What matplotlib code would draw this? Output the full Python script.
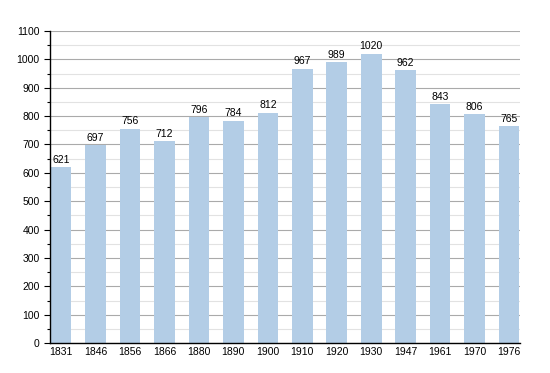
import matplotlib
matplotlib.use('Agg')
import matplotlib.pyplot as plt
from matplotlib.ticker import MultipleLocator

# Datos
annees = ['1831', '1846', '1856', '1866', '1880', '1890', '1900',
          '1910', '1920', '1930', '1947', '1961', '1970', '1976']
population = [621, 697, 756, 712, 796, 784, 812,
              967, 989, 1020, 962, 843, 806, 765]

plt.rcParams['font.family'] = ['Liberation Sans', 'DejaVu Sans']

fig = plt.figure(figsize=(5.5, 3.73), dpi=100)
ax = fig.add_axes([0.091, 0.080, 0.854, 0.837])

x = range(len(annees))
ax.bar(x, population, width=0.6, color='#b3cde6', zorder=2)

for xi, v in zip(x, population):
    ax.text(xi, v + 8, str(v), ha='center', va='bottom', fontsize=7.5, color='black', zorder=3)

ax.set_xlim(-0.32, 13.31)
ax.set_ylim(0, 1100)
ax.set_xticks(list(x))
ax.set_xticklabels(annees, fontsize=7.5)
ax.yaxis.set_major_locator(MultipleLocator(100))
ax.yaxis.set_minor_locator(MultipleLocator(50))
ax.tick_params(axis='y', which='major', labelsize=7.5, length=4, width=0.8)
ax.tick_params(axis='y', which='minor', length=2.5, width=0.8)
ax.tick_params(axis='x', length=0, pad=3)

ax.grid(axis='y', which='major', color='#aaaaaa', linewidth=0.8, zorder=0)
ax.grid(axis='y', which='minor', color='#e2e2e2', linewidth=0.8, zorder=0)

for s in ['top', 'right']:
    ax.spines[s].set_visible(False)
ax.spines['left'].set_linewidth(1)
ax.spines['bottom'].set_linewidth(1)

fig.savefig('out.png', dpi=100)
